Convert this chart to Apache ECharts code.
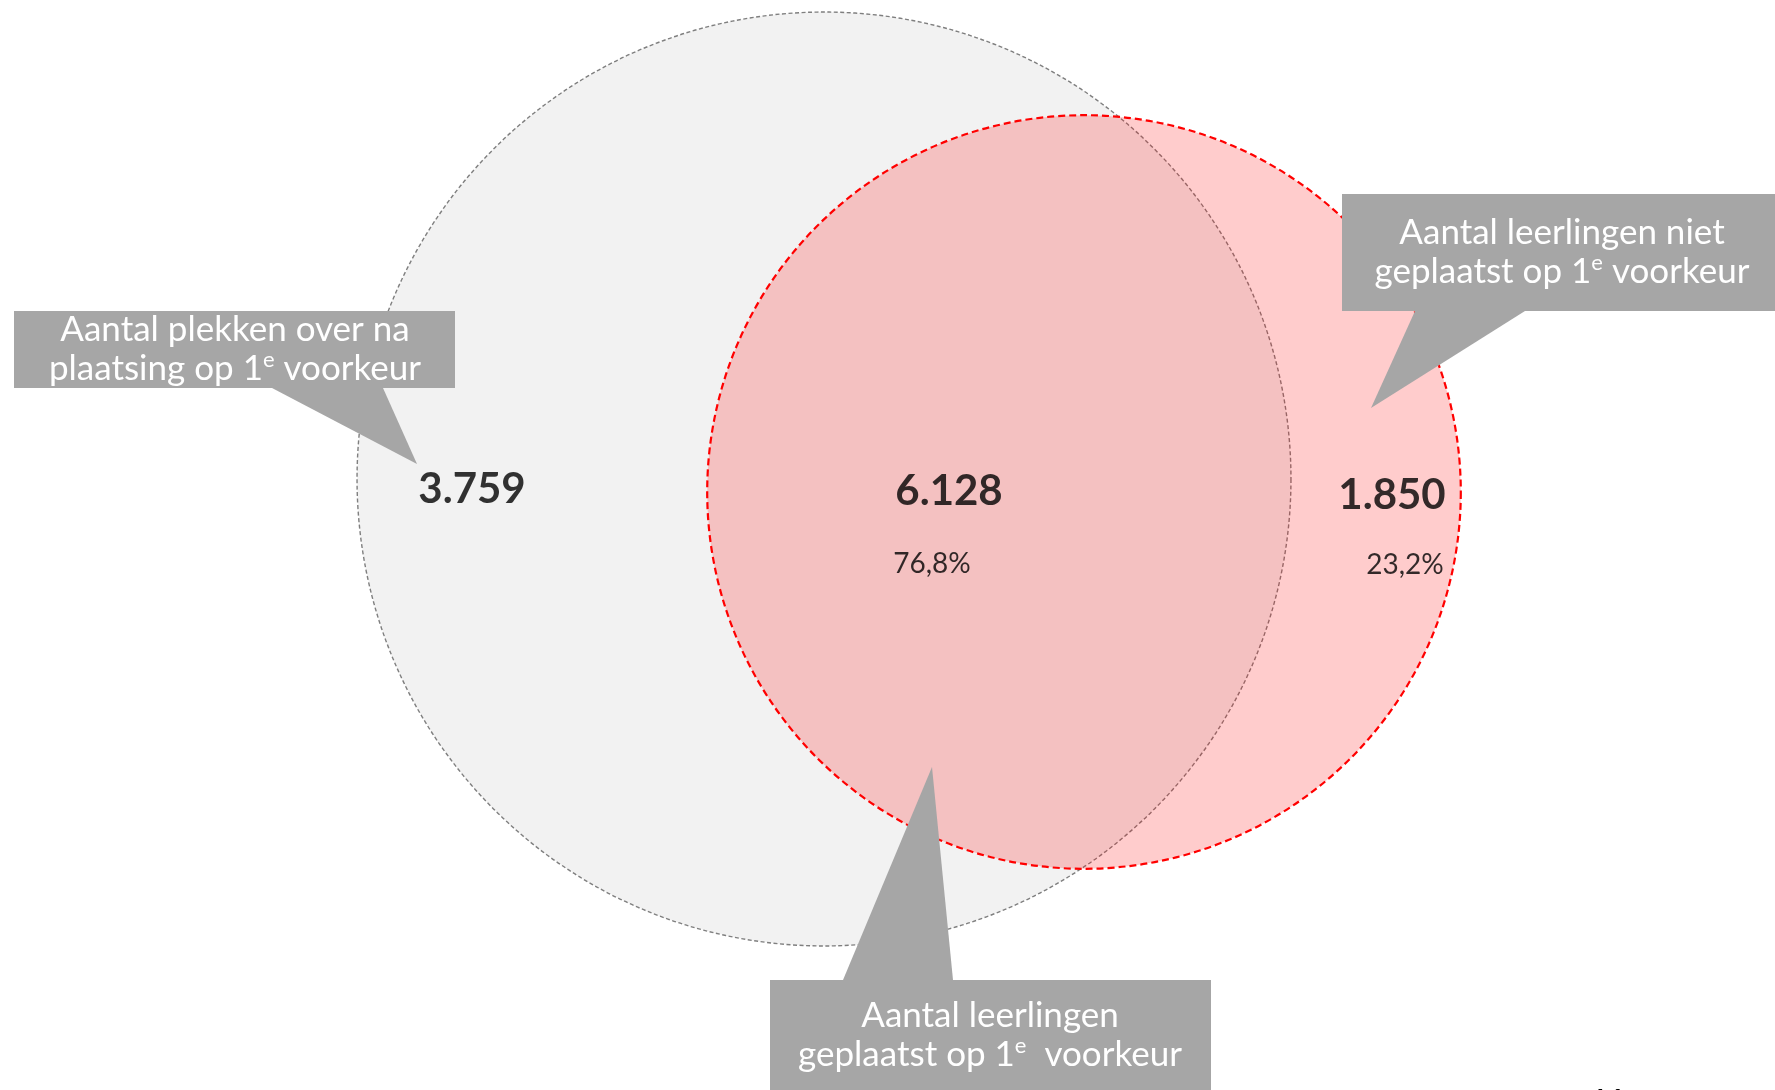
<!DOCTYPE html>
<html>
<head>
<meta charset="utf-8">
<title>Plaatsing op 1e voorkeur</title>
<script src="https://cdn.jsdelivr.net/npm/echarts@6/dist/echarts.min.js"></script>
<style>
  html, body { margin: 0; padding: 0; background: #fff; }
  #chart { width: 1775px; height: 1090px; }
</style>
</head>
<body>
<div id="chart"></div>
<script>
// data
const regionNames = ["plekken over", "geplaatst 1e voorkeur", "niet geplaatst"];
const regionValues = [3759, 6128, 1850];
const regionShares = [null, 76.8, 23.2];
const calloutTexts = [
  "Aantal plekken over na\nplaatsing op 1{sup|e} voorkeur",
  "Aantal leerlingen niet\ngeplaatst op 1{sup|e} voorkeur",
  "Aantal leerlingen\ngeplaatst op 1{sup|e}  voorkeur",
];

// layout (pixel plane of the slide)
const FONT = "Lato, 'Open Sans', sans-serif";
const pxPerUnit = 0.04723; // radius per leerling/plek
const setCenters = [[824, 479], [1084, 492]];
const countPos = [[472, 489], [949, 491], [1392, 495]];
const sharePos = [[null, null], [932, 564], [1405, 565]];
const calloutBoxes = [
  { box: [14, 311, 441, 77], tip: [[272, 388], [383, 388], [417, 464]], text: [235, 349] },
  { box: [1342, 194, 433, 117], tip: [[1415, 311], [1525, 311], [1371, 408]], text: [1562, 252] },
  { box: [770, 980, 441, 110], tip: [[843, 980], [953, 980], [932, 767]], text: [990, 1035] },
];

const fmtNL = (v) => String(v).replace(/\B(?=(\d{3})+(?!\d))/g, ".");
const fmtPct = (v) => String(v.toFixed(1)).replace(".", ",") + "%";

const setTotals = [
  regionValues[0] + regionValues[1], // plekken
  regionValues[1] + regionValues[2], // leerlingen
];
const setStyles = [
  { fill: "#f2f2f2", stroke: "#7f7f7f", lineWidth: 1.4, lineDash: [4, 2.5] },
  { fill: "rgba(255,0,0,0.2)", stroke: "#ff0000", lineWidth: 2.2, lineDash: [7, 4] },
];

const myChart = echarts.init(document.getElementById("chart"));

const graphics = [];
calloutBoxes.forEach((c, i) => {
  graphics.push({
    type: "rect",
    shape: { x: c.box[0], y: c.box[1], width: c.box[2], height: c.box[3] },
    style: { fill: "#a6a6a6" },
    z: 10,
  });
  graphics.push({
    type: "polygon",
    shape: { points: c.tip },
    style: { fill: "#a6a6a6" },
    z: 10,
  });
  graphics.push({
    type: "text",
    x: c.text[0],
    y: c.text[1],
    style: {
      text: calloutTexts[i],
      fill: "#ffffff",
      fontSize: 35,
      fontFamily: FONT,
      lineHeight: 39,
      align: "center",
      verticalAlign: "middle",
      rich: {
        sup: { fontSize: 22, fontFamily: FONT, fill: "#ffffff", verticalAlign: "top", lineHeight: 39 },
      },
    },
    z: 11,
  });
});
// paginanummer, grotendeels buiten beeld
graphics.push({
  type: "text",
  x: 1608,
  y: 1086,
  style: { text: "11", fill: "#000", fontSize: 30, fontWeight: "bold", fontFamily: FONT, align: "center", verticalAlign: "top" },
  z: 11,
});

const option = {
  animation: false,
  grid: { left: 0, right: 0, top: 0, bottom: 0 },
  xAxis: { type: "value", min: 0, max: 1775, show: false },
  yAxis: { type: "value", min: 0, max: 1090, inverse: true, show: false },
  series: [
    {
      type: "custom",
      silent: true,
      data: setTotals.map((t, i) => [setCenters[i][0], setCenters[i][1], t * pxPerUnit, i]),
      renderItem: function (params, api) {
        const c = api.coord([api.value(0), api.value(1)]);
        const r = api.size([api.value(2), 0])[0];
        const s = setStyles[api.value(3)];
        return {
          type: "circle",
          shape: { cx: c[0], cy: c[1], r: r },
          style: s,
        };
      },
      z: 1,
    },
    {
      type: "scatter",
      silent: true,
      symbolSize: 0,
      data: regionValues.map((v, i) => ({ name: regionNames[i], value: [countPos[i][0], countPos[i][1], v] })),
      label: {
        show: true,
        position: "inside",
        formatter: (p) => fmtNL(p.value[2]),
        color: "#000",
        fontFamily: FONT,
        fontWeight: "bold",
        fontSize: 42,
      },
      z: 5,
    },
    {
      type: "scatter",
      silent: true,
      symbolSize: 0,
      data: regionShares
        .map((v, i) => (v == null ? null : { name: regionNames[i], value: [sharePos[i][0], sharePos[i][1], v] }))
        .filter((d) => d),
      label: {
        show: true,
        position: "inside",
        formatter: (p) => fmtPct(p.value[2]),
        color: "#000",
        fontFamily: FONT,
        fontSize: 28,
      },
      z: 5,
    },
  ],
  graphic: graphics,
};

myChart.setOption(option);
window.onresize = function () {
  myChart.resize();
};
</script>
</body>
</html>
